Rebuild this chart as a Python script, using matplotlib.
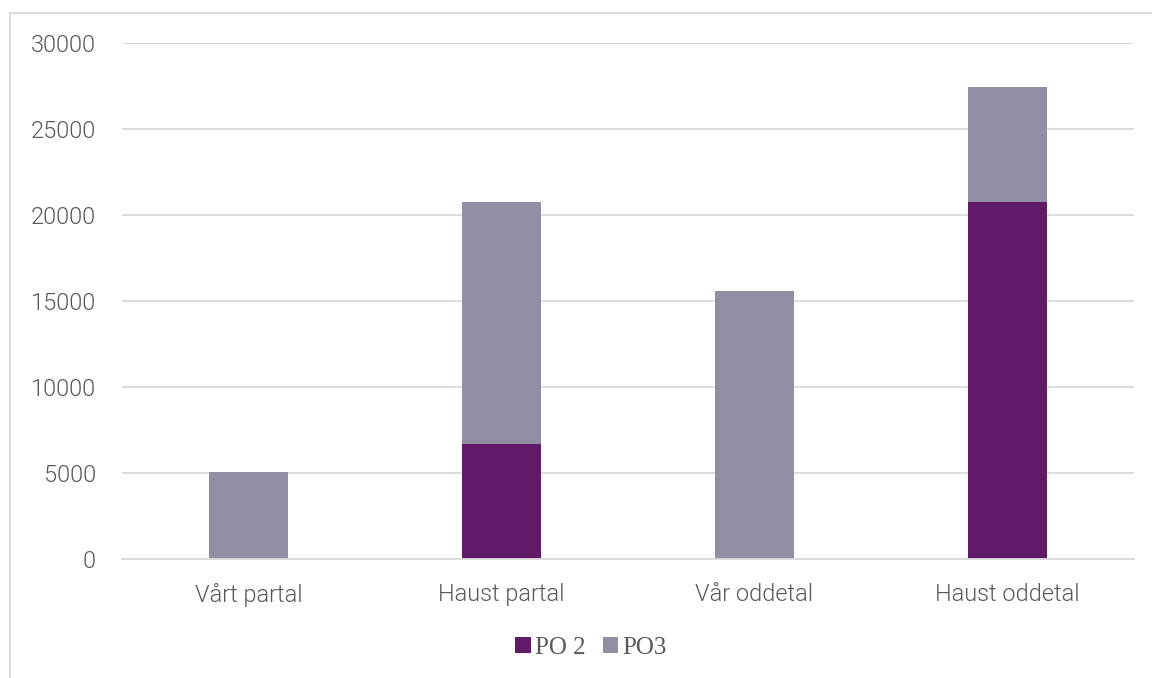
import matplotlib
matplotlib.use("Agg")
import matplotlib.pyplot as plt
from matplotlib.lines import Line2D
import numpy as np

categories = ["Vårt partal", "Haust partal", "Vår oddetal", "Haust oddetal"]
po2 = [0, 6700, 0, 20750]
po3 = [5050, 14050, 15600, 6650]
yticks = [0, 5000, 10000, 15000, 20000, 25000, 30000]

c_po2 = "#611A68"
c_po3 = "#918DA4"
grid_c = "#D9D9D9"
text_c = "#595959"

fig = plt.figure(figsize=(11.52, 6.78), dpi=100)
ax = fig.add_axes([0.106, 0.1755, 0.878, 0.7615])

x = np.arange(len(categories))
w = 0.313
ax.bar(x, po2, w, color=c_po2, label="PO 2", zorder=3)
ax.bar(x, po3, w, bottom=po2, color=c_po3, label="PO3", zorder=3)

ax.set_xlim(-0.5, 3.5)
ax.set_ylim(0, 30000)
ax.set_yticks(yticks)
ax.set_yticklabels([str(t) for t in yticks])
ax.set_xticks(x)
ax.set_xticklabels(categories)
ax.yaxis.grid(True, color=grid_c, linewidth=1.3, zorder=0)
for s in ["top", "right", "left"]:
    ax.spines[s].set_visible(False)
ax.spines["bottom"].set_color(grid_c)
ax.spines["bottom"].set_linewidth(1.3)
ax.spines["bottom"].set_zorder(4)
ax.tick_params(axis="both", length=0, colors=text_c)
ax.tick_params(axis="y", pad=19)
ax.tick_params(axis="x", pad=17)
for lab in ax.get_xticklabels() + ax.get_yticklabels():
    lab.set_fontfamily("Roboto")
    lab.set_fontweight(300)
    lab.set_fontsize(17)
    lab.set_color(text_c)

leg = fig.legend(loc="center", bbox_to_anchor=(0.513, 0.044), ncol=2, frameon=False,
                 prop={"family": "Liberation Serif", "size": 18},
                 handlelength=0.62, handleheight=0.62, handletextpad=0.15,
                 columnspacing=0.7)
for t in leg.get_texts():
    t.set_color(text_c)

# outer chart frame: top and left edges only
fx0 = 10 / 1152
fy1 = 1 - 13 / 678
fig.add_artist(Line2D([fx0, 1.0], [fy1, fy1], transform=fig.transFigure,
                      color=grid_c, linewidth=1.3))
fig.add_artist(Line2D([fx0, fx0], [0, fy1], transform=fig.transFigure,
                      color=grid_c, linewidth=1.3))

fig.savefig("out.png", dpi=100)
